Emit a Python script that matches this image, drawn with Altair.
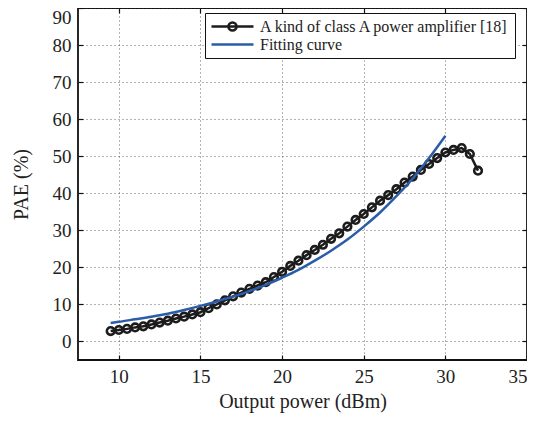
import altair as alt
import pandas as pd

# Measured PAE (A kind of class A power amplifier [18])
meas_x = [9.5, 10, 10.5, 11, 11.5, 12, 12.5, 13, 13.5, 14, 14.5, 15, 15.5, 16, 16.5,
          17, 17.5, 18, 18.5, 19, 19.5, 20, 20.5, 21, 21.5, 22, 22.5, 23, 23.5, 24,
          24.5, 25, 25.5, 26, 26.5, 27, 27.5, 28, 28.5, 29, 29.5, 30, 30.5, 31, 31.5, 32]
meas_y = [2.8, 3.1, 3.4, 3.8, 4.1, 4.6, 5.1, 5.6, 6.2, 6.7, 7.3, 7.9, 9.0, 10.0, 11.1,
          12.2, 13.2, 14.2, 15.1, 16.0, 17.4, 18.8, 20.4, 21.8, 23.3, 24.7, 26.1, 27.7, 29.2, 31.0,
          32.8, 34.4, 36.2, 38.0, 39.5, 41.1, 42.9, 44.5, 46.3, 47.9, 49.5, 51.0, 51.7, 52.2, 50.6, 46.1]

# Fitting curve
fit_x = [9.5, 10, 11, 12, 13, 14, 15, 16, 17, 18, 19, 20, 21, 22, 23, 24, 25, 26, 27, 28, 29, 30]
fit_y = [5.0, 5.3, 6.0, 6.7, 7.5, 8.5, 9.6, 10.8, 12.1, 13.6, 15.3, 17.2, 19.3, 21.8, 24.5,
         27.5, 31.0, 34.8, 39.2, 44.0, 49.5, 55.5]

x_ticks = [10, 15, 20, 25, 30, 35]
y_ticks = [0, 10, 20, 30, 40, 50, 60, 70, 80, 90]

series_names = ["A kind of class A power amplifier [18]", "Fitting curve"]
series_colors = ["#1c1c1c", "#2a5caa"]
legend_shapes = [
    "M-3,0H3M-0.57,0A0.57,0.57,0,1,1,0.57,0A0.57,0.57,0,1,1,-0.57,0",
    "M-3,0H3",
]

meas = pd.DataFrame({"x": meas_x, "y": meas_y, "series": series_names[0]})
fit = pd.DataFrame({"x": fit_x, "y": fit_y, "series": series_names[1]})
both = pd.concat([meas, fit], ignore_index=True)

FONT = "Liberation Serif"

xscale = alt.Scale(domain=[7.5, 35], nice=False, zero=False)
yscale = alt.Scale(domain=[-5, 90], nice=False, zero=False)

x_main = alt.X("x:Q", scale=xscale,
               axis=alt.Axis(title="Output power (dBm)", values=x_ticks, grid=True,
                             labelFlush=True, labelOverlap=False))
y_main = alt.Y("y:Q", scale=yscale,
               axis=alt.Axis(title="PAE (%)", values=y_ticks, grid=True,
                             labelFlush=True, labelOverlap=False))
x_none = alt.X("x:Q", scale=xscale, axis=None)
y_none = alt.Y("y:Q", scale=yscale, axis=None)


def tick_axis(orient, vals):
    return alt.Axis(orient=orient, values=vals, offset=-5, tickSize=5, ticks=True,
                    labels=False, title=None, grid=False, domain=False,
                    tickColor="#111", tickWidth=1.2)


meas_line = alt.Chart(meas).mark_line(color=series_colors[0], strokeWidth=2.5).encode(x=x_main, y=y_main)
meas_pts = alt.Chart(meas).mark_point(
    shape="circle", filled=False, color=series_colors[0], size=58, strokeWidth=2.6, opacity=1
).encode(x=x_none, y=y_none)
fit_line = alt.Chart(fit).mark_line(color=series_colors[1], strokeWidth=2.5,
                                    interpolate="monotone").encode(x=x_none, y=y_none)

ticks_bl = alt.Chart(meas).mark_point(opacity=0).encode(
    x=alt.X("x:Q", scale=xscale, axis=tick_axis("bottom", x_ticks)),
    y=alt.Y("y:Q", scale=yscale, axis=tick_axis("left", y_ticks)),
)
ticks_tr = alt.Chart(meas).mark_point(opacity=0).encode(
    x=alt.X("x:Q", scale=xscale, axis=tick_axis("top", x_ticks)),
    y=alt.Y("y:Q", scale=yscale, axis=tick_axis("right", y_ticks)),
)

leg = alt.Legend(title=None, orient="none", legendX=127, legendY=5,
                 symbolOpacity=1, symbolSize=196, symbolStrokeWidth=2.6, symbolOffset=14,
                 labelOffset=19, labelFont=FONT, labelFontSize=16,
                 labelColor="#222", labelLimit=400,
                 labelExpr="datum.label + '\u00a0\u00a0\u00a0'",
                 padding=5, rowPadding=-2, strokeColor="#111",
                 fillColor="white")

legend_layer = alt.Chart(both).mark_point(filled=False, opacity=0, strokeWidth=2.6).encode(
    x=x_none, y=y_none,
    color=alt.Color("series:N", scale=alt.Scale(domain=series_names, range=series_colors), legend=leg),
    shape=alt.Shape("series:N", scale=alt.Scale(domain=series_names, range=legend_shapes), legend=leg),
)

chart = alt.layer(meas_line, meas_pts, fit_line, ticks_bl, ticks_tr, legend_layer).resolve_axis(
    x="independent", y="independent"
).properties(
    width=449, height=352,
    autosize=alt.AutoSizeParams(type="none"),
    padding={"left": 70, "top": 0, "right": 0, "bottom": 53},
).configure(font=FONT).configure_axis(
    gridColor="#333", gridDash=[1, 3], gridWidth=1, gridOpacity=0.75,
    domain=False, ticks=False,
    labelFont=FONT, labelFontSize=19, labelColor="#222",
    titleFont=FONT, titleFontSize=20, titleColor="#222", titleFontWeight="normal",
).configure_axisX(labelPadding=7, titlePadding=5).configure_axisY(
    labelPadding=7, titlePadding=21
).configure_legend(labelFont=FONT).configure_view(
    stroke="#111", strokeWidth=1.8
)

chart.save("out.html", embed_options={"renderer": "svg", "actions": False})
